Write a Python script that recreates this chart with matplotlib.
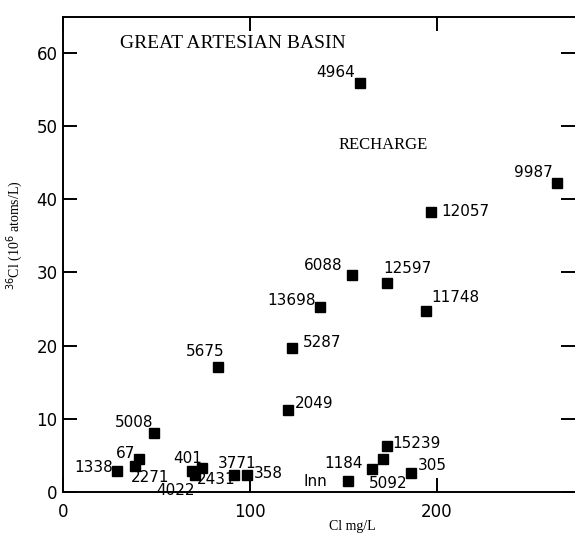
import matplotlib
matplotlib.use('Agg')
import matplotlib.pyplot as plt

# datos
cl_mg = [158.8, 264.2, 196.8, 154.5, 173.3, 137.4, 194.1, 122.5, 82.9, 120.3,
         48.7, 40.6, 38.5, 28.9, 68.9, 74.3, 70.6, 91.4, 98.4,
         152.4, 165.2, 171.1, 173.3, 186.0]
cl36 = [55.9, 42.2, 38.3, 29.6, 28.5, 25.3, 24.7, 19.7, 17.1, 11.2,
        8.1, 4.5, 3.6, 2.9, 2.9, 3.3, 2.3, 2.3, 2.3,
        1.5, 3.1, 4.5, 6.3, 2.6]
pozos = ['4964', '9987', '12057', '6088', '12597', '13698', '11748', '5287', '5675', '2049',
         '5008', '67', '2271', '1338', '401', '2431', '4022', '3771', '358',
         'Inn', '1184', '5092', '15239', '305']

# desplazamiento de cada etiqueta (pixeles) y alineacion
despl = {'4964': (-5, 10, 'right'), '9987': (-4, 11, 'right'), '12057': (10, 0, 'left'),
         '6088': (-9, 10, 'right'), '12597': (-4, 15, 'left'), '13698': (-4, 6, 'right'),
         '11748': (5, 14, 'left'), '5287': (11, 5, 'left'), '5675': (6, 15, 'right'),
         '2049': (7, 7, 'left'), '5008': (-1, 10, 'right'), '67': (-4, 6, 'right'),
         '2271': (-4, -12, 'left'), '1338': (-4, 3, 'right'), '401': (-4, 12, 'center'),
         '2431': (-5, -12, 'left'), '4022': (0, -15, 'right'), '3771': (3, 12, 'center'),
         '358': (7, 2, 'left'), 'Inn': (-21, 0, 'right'), '1184': (-9, 6, 'right'),
         '5092': (5, -24, 'center'), '15239': (5, 2, 'left'), '305': (7, 7, 'left')}

fig = plt.figure(figsize=(5.75, 5.46), dpi=100)
ax = fig.add_axes([63/575, 54/546, 512/575, 475/546])

ax.plot(cl_mg, cl36, 's', color='black', markersize=7, linestyle='none')

for x, y, t in zip(cl_mg, cl36, pozos):
    dx, dy, ha = despl[t]
    ax.annotate(t, (x, y), xytext=(dx*0.72, dy*0.72), textcoords='offset points',
                ha=ha, va='center', fontsize=11, family='DejaVu Sans')

ax.set_xlim(0, 273.8)
ax.set_ylim(0, 64.9)
ax.set_xticks([0, 100, 200])
ax.set_yticks(range(0, 61, 10))
ax.tick_params(direction='in', length=10, width=1.4, labelsize=12, top=True, right=True)
ax.tick_params(axis='x', pad=8)
ax.tick_params(axis='y', pad=4)
ax.spines['right'].set_visible(False)
for s in ['left', 'bottom', 'top']:
    ax.spines[s].set_linewidth(1.4)

ax.text(0.111, 0.945, 'GREAT ARTESIAN BASIN', transform=ax.transAxes, ha='left', va='center',
        fontsize=14, family='Liberation Serif')
ax.text(0.539, 0.731, 'RECHARGE', transform=ax.transAxes, ha='left', va='center',
        fontsize=12, family='Liberation Serif')

ax.set_xlabel('Cl mg/L', fontsize=10, family='Liberation Serif')
ax.xaxis.set_label_coords(0.566, -0.059)
ax.set_ylabel(r'$^{36}$Cl (10$^{6}$ atoms/L)', fontsize=10, family='Liberation Serif')
ax.yaxis.set_label_coords(-0.074, 0.54)

plt.savefig('out.png', dpi=100)
